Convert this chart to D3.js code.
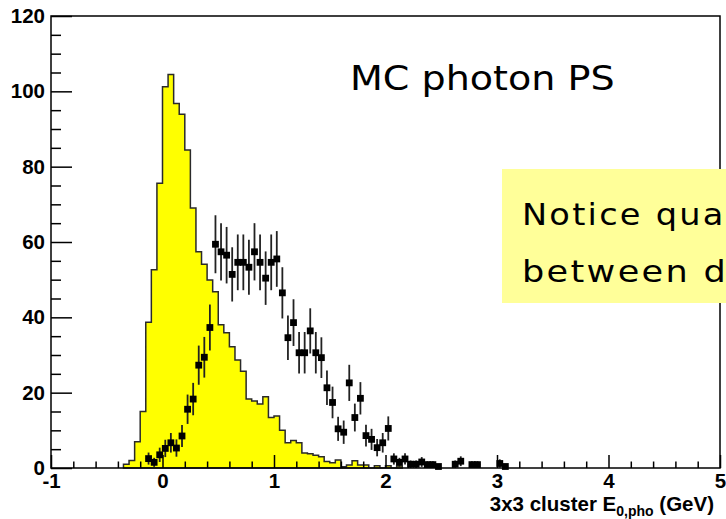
<!DOCTYPE html>
<html>
<head>
<meta charset="utf-8">
<script src="https://cdn.jsdelivr.net/npm/d3@7/dist/d3.min.js"></script>
<style>
  html, body { margin: 0; padding: 0; background: #fff; overflow: hidden; }
  svg { display: block; }
</style>
</head>
<body>
<svg id="chart" width="726" height="519"></svg>
<script>
// MC histogram: bin left edges (GeV), width 0.05, and contents
const mcEdges = [-0.35,-0.30,-0.25,-0.20,-0.15,-0.10,-0.05,0.00,0.05,0.10,0.15,0.20,0.25,0.30,0.35,0.40,0.45,0.50,0.55,0.60,0.65,0.70,0.75,0.80,0.85,0.90,0.95,1.00,1.05,1.10,1.15,1.20,1.25,1.30,1.35,1.40,1.45,1.50,1.55,1.60,1.65,1.70,1.75,1.80,1.85,1.90,1.95,2.00,2.05,2.10];
const mcCounts = [1,2,7,15,38.7,52.6,75.6,101.2,104.5,96.8,93.9,84.4,69,57.4,54.1,49.9,46.8,38,35.9,32.2,28.7,25.7,18.3,17.8,17,18.9,13.4,13.8,10,6.7,7.3,6.7,4,3.8,3.4,3.0,1.7,1.4,2.1,0.3,0.8,1.9,0.8,0.8,0,0.6,0,0.6,0,0.5];
const binWidth = 0.05;

// Data points: bin centres, contents and vertical error half-lengths
const dataX = [-0.125,-0.075,-0.025,0.025,0.075,0.125,0.175,0.225,0.275,0.325,0.375,0.425,0.475,0.525,0.575,0.625,0.675,0.725,0.775,0.825,0.875,0.925,0.975,1.025,1.075,1.125,1.175,1.225,1.275,1.325,1.375,1.425,1.475,1.525,1.575,1.625,1.675,1.725,1.775,1.825,1.875,1.925,1.975,2.025,2.075,2.125,2.175,2.225,2.275,2.325,2.375,2.425,2.475,2.625,2.675,2.775,2.825,3.025,3.075];
const dataY = [2.5,1.5,3.5,5.2,6.7,5.3,8.5,15.6,18.3,27.3,29.4,37.3,59.4,57.4,56.5,51.4,54.6,54.6,53.3,57.4,54.6,50.4,54.6,55.5,46.5,34.6,38.6,30.6,30.6,36.4,30.6,29.3,21.3,17.4,10.4,9.5,22.6,13.4,18.5,8.6,7.6,5.4,6.7,10.5,2.4,1.5,2.4,1.0,1.0,1.6,0.9,0.9,0.4,1.0,1.8,0.9,0.9,1.2,0.4];
const dataErr = [1.6,1.2,1.9,2.3,2.6,2.3,2.9,3.9,4.3,5.2,5.4,6.1,7.7,7.6,7.5,7.2,7.4,7.4,7.3,7.6,7.4,7.1,7.4,7.4,6.8,5.9,6.2,5.5,5.5,6.0,5.5,5.4,4.6,4.2,3.2,3.1,4.8,3.7,4.3,2.9,2.8,2.3,2.6,3.2,1.5,1.2,1.5,1.0,1.0,1.3,0.9,0.9,0.6,1.0,1.3,0.9,0.9,1.1,0.6];

// Axis ticks
const xMajorTicks = [-1,0,1,2,3,4,5];
const yMajorTicks = [0,20,40,60,80,100,120];

const svg = d3.select("#chart");
const x = d3.scaleLinear().domain([-1, 5]).range([51, 720]);
const y = d3.scaleLinear().domain([0, 120]).range([468, 16]);

const labelFont = "'Liberation Sans', Arial, Helvetica, sans-serif";
const noteFont = "'DejaVu Sans', Verdana, sans-serif";
const plainInt = d => String(d);   // hyphen-minus, as in the axis labels

// Filled MC histogram drawn as a step outline
const pts = [[mcEdges[0], 0]];
mcEdges.forEach((e, i) => {
  pts.push([e, mcCounts[i]]);
  pts.push([e + binWidth, mcCounts[i]]);
});
pts.push([mcEdges[mcEdges.length - 1] + binWidth, 0]);
const line = d3.line().x(d => x(d[0])).y(d => y(d[1]));
svg.append("path")
  .attr("d", line(pts) + "Z")
  .attr("fill", "#ffff00")
  .attr("stroke", "#2a2a2a")
  .attr("stroke-width", 1.5)
  .attr("stroke-linejoin", "miter");

// Data: error bars and square markers
const g = svg.append("g");
dataX.forEach((cx, i) => {
  const v = dataY[i], e = dataErr[i];
  g.append("line")
    .attr("x1", x(cx)).attr("x2", x(cx))
    .attr("y1", y(Math.max(0, v - e))).attr("y2", y(v + e))
    .attr("stroke", "#222").attr("stroke-width", 1.8);
  g.append("line")
    .attr("x1", x(cx - binWidth / 2)).attr("x2", x(cx + binWidth / 2))
    .attr("y1", y(v)).attr("y2", y(v))
    .attr("stroke", "#222").attr("stroke-width", 1.5);
  g.append("rect")
    .attr("x", x(cx) - 3.4).attr("y", y(v) - 3.4)
    .attr("width", 6.8).attr("height", 6.8)
    .attr("fill", "#000");
});

// Frame
svg.append("rect")
  .attr("x", 51).attr("y", 16)
  .attr("width", 720 - 51).attr("height", 468 - 16)
  .attr("fill", "none").attr("stroke", "#000").attr("stroke-width", 1.5);

// Y axis: major ticks with labels, minor ticks every 5
svg.append("g").attr("transform", "translate(51,0)")
  .call(d3.axisLeft(y).tickValues(yMajorTicks).tickSize(-21).tickPadding(6).tickFormat(plainInt));
svg.append("g").attr("transform", "translate(51,0)")
  .call(d3.axisLeft(y).tickValues(d3.range(0, 121, 5).filter(v => v % 20 !== 0)).tickSize(-10).tickFormat(""));

// X axis: major ticks with labels, minor ticks every 0.2
svg.append("g").attr("transform", "translate(0,468)")
  .call(d3.axisBottom(x).tickValues(xMajorTicks).tickSize(-13).tickPadding(5).tickFormat(plainInt));
svg.append("g").attr("transform", "translate(0,468)")
  .call(d3.axisBottom(x).tickValues(d3.range(-1, 5.001, 0.2).filter(v => Math.abs(v - Math.round(v)) > 1e-6)).tickSize(-6.5).tickFormat(""));

svg.selectAll(".domain").remove();
svg.selectAll(".tick line").attr("stroke", "#000").attr("stroke-width", 1.5);
svg.selectAll(".tick text")
  .attr("fill", "#000")
  .style("font-family", labelFont)
  .style("font-weight", "bold")
  .style("font-size", "20.5px");

// X axis title
const title = svg.append("text")
  .attr("x", 714).attr("y", 511)
  .attr("text-anchor", "end")
  .style("font-family", labelFont)
  .style("font-weight", "bold")
  .style("font-size", "20.5px")
  .attr("fill", "#000");
title.append("tspan").text("3x3 cluster E");
title.append("tspan").attr("dy", 5).style("font-size", "14px").text("0,pho");
title.append("tspan").attr("dy", -5).text(" (GeV)");

// Annotations (widened horizontally for a geometric, wide-set look)
svg.append("text")
  .attr("transform", "translate(350,90) scale(1.12,1)")
  .style("font-family", noteFont)
  .style("font-size", "34px")
  .attr("fill", "#000")
  .text("MC photon PS");

svg.append("rect")
  .attr("x", 502).attr("y", 169)
  .attr("width", 240).attr("height", 134)
  .attr("fill", "#ffff99");

const note = svg.append("g")
  .style("font-family", noteFont)
  .style("font-size", "30px")
  .style("letter-spacing", "2px")
  .attr("fill", "#000");
note.append("text").attr("transform", "translate(522,225) scale(1.12,1)").text("Notice qua");
note.append("text").attr("transform", "translate(522,282) scale(1.17,1)").text("between d");
</script>
</body>
</html>
